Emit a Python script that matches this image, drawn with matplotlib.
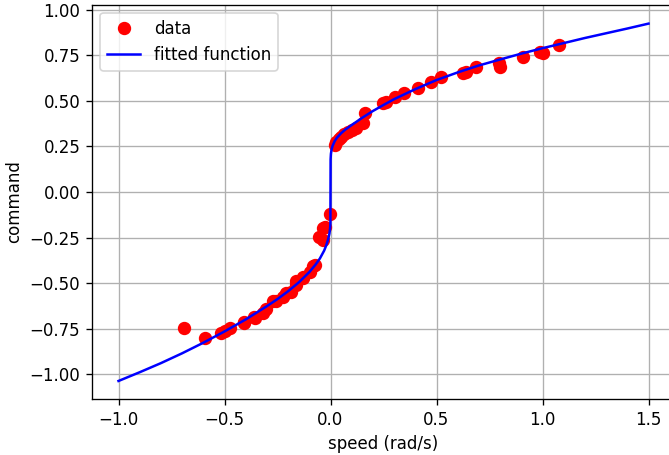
import matplotlib
matplotlib.use("Agg")
import matplotlib.pyplot as plt

# measured samples (speed in rad/s, command)
speed = [-0.689, -0.59, -0.516, -0.476, -0.50, -0.406, -0.41, -0.358, -0.36, -0.319,
         -0.303, -0.272, -0.256, -0.225, -0.209, -0.185, -0.162, -0.162, -0.13, -0.13,
         -0.099, -0.083, -0.075, -0.052, -0.036, -0.036, -0.028, -0.004,
         0.019, 0.027, 0.04, 0.05, 0.065, 0.082, 0.10, 0.121, 0.152, 0.165,
         0.247, 0.263, 0.302, 0.349, 0.412, 0.475, 0.522, 0.624, 0.64, 0.684,
         0.797, 0.80, 0.907, 0.986, 1.0, 1.077]
command = [-0.748, -0.80, -0.773, -0.749, -0.765, -0.716, -0.718, -0.694, -0.685, -0.667,
           -0.64, -0.60, -0.60, -0.575, -0.557, -0.548, -0.511, -0.49, -0.474, -0.465,
           -0.438, -0.407, -0.40, -0.245, -0.264, -0.20, -0.19, -0.12,
           0.258, 0.276, 0.29, 0.304, 0.32, 0.331, 0.34, 0.35, 0.377, 0.436,
           0.487, 0.496, 0.524, 0.546, 0.57, 0.606, 0.63, 0.656, 0.66, 0.689,
           0.707, 0.689, 0.743, 0.771, 0.766, 0.805]

# fitted curve
fit_speed = [-1.0, -0.9, -0.8, -0.7, -0.6, -0.5, -0.4, -0.3, -0.25, -0.2, -0.15,
             -0.1, -0.07, -0.05, -0.03, -0.02, -0.01, -0.005, -0.002, -0.0005,
             0.0005, 0.002, 0.005, 0.01, 0.02, 0.03, 0.05, 0.07, 0.1, 0.15, 0.2,
             0.25, 0.3, 0.4, 0.5, 0.6, 0.7, 0.8, 0.9, 1.0, 1.1, 1.2, 1.3, 1.4, 1.5]
fit_command = [-1.038, -0.990, -0.940, -0.886, -0.828, -0.766, -0.700, -0.627, -0.588,
               -0.545, -0.497, -0.440, -0.398, -0.365, -0.322, -0.293, -0.255, -0.228,
               -0.200, -0.175,
               0.180, 0.210, 0.233, 0.254, 0.280, 0.298, 0.323, 0.343, 0.368, 0.408,
               0.445, 0.478, 0.510, 0.565, 0.615, 0.657, 0.695, 0.728, 0.760, 0.790,
               0.818, 0.846, 0.872, 0.898, 0.925]

fig = plt.figure(figsize=(669 / 120, 455 / 120), dpi=120)
ax = fig.add_axes([92 / 669, 56 / 455, 583 / 669, 394.5 / 455])
ax.plot(speed, command, 'ro', markersize=7, label='data')
ax.plot(fit_speed, fit_command, 'b-', label='fitted function')
ax.set_xlim(-1.125, 1.625)
ax.set_ylim(-1.137, 1.030)
ax.set_xlabel('speed (rad/s)')
ax.set_ylabel('command')
ax.grid(True)
ax.legend(loc='upper left')
fig.savefig('out.png', dpi=120)
